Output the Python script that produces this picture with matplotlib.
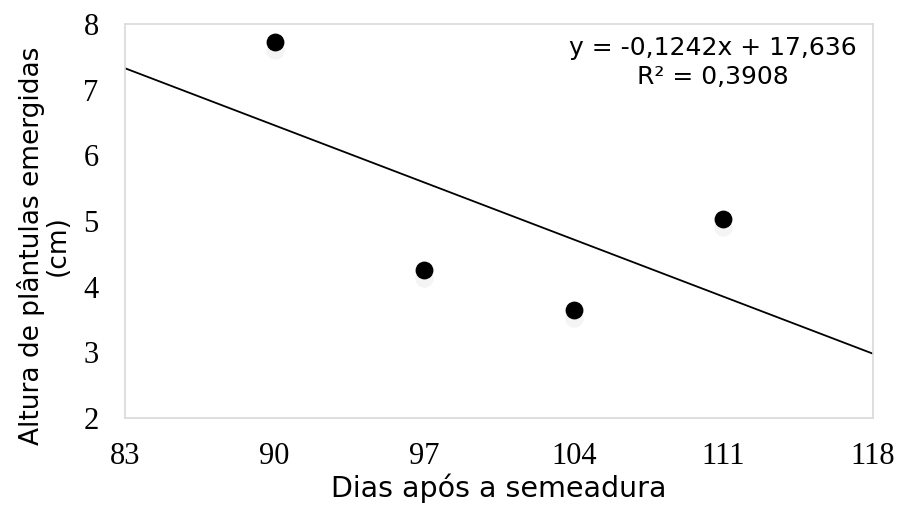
import numpy as np
import matplotlib.pyplot as plt

# data
dias = [90, 97, 104, 111]
altura = [7.72, 4.25, 3.65, 5.03]
slope, intercept = -0.1242, 17.636
r2 = 0.3908
xticks = [83, 90, 97, 104, 111, 118]
yticks = [2, 3, 4, 5, 6, 7, 8]

fig = plt.figure(figsize=(9, 5.13), dpi=100)
ax = fig.add_axes([0.139, 0.185, 0.831, 0.768])

# trendline over the full x range
xs = np.array([xticks[0], xticks[-1]])
ax.plot(xs, slope*xs + intercept, color='black', lw=1.3, zorder=2)

# faint shadow under markers, then the markers
ax.scatter(dias, [v - 0.12 for v in altura], s=150, color='#f4f4f4', zorder=2)
ax.scatter(dias, altura, s=140, color='black', zorder=3)

ax.set_xlim(xticks[0], xticks[-1])
ax.set_ylim(yticks[0], yticks[-1])
ax.set_xticks(xticks)
ax.set_yticks(yticks)
ax.tick_params(length=0, labelsize=22)
ax.tick_params(axis='x', pad=17)
ax.tick_params(axis='y', pad=19)
for lab in ax.get_xticklabels() + ax.get_yticklabels():
	lab.set_family('Liberation Serif')
for sp in ax.spines.values():
	sp.set_color('#d9d9d9')
	sp.set_linewidth(1.2)

ax.set_xlabel('Dias após a semeadura', fontsize=20.5, family='DejaVu Sans', labelpad=2)
ax.set_ylabel('Altura de plântulas emergidas\n(cm)', fontsize=19, family='DejaVu Sans',
	linespacing=1.0)
ax.yaxis.set_label_coords(-0.073, 0.437)

eq = f'y = {slope:.4f}x + {intercept:.3f}'.replace('.', ',')
r2txt = f'R² = {r2:.4f}'.replace('.', ',')
ax.text(0.786, 0.97, eq + '\n' + r2txt, transform=ax.transAxes, ha='center', va='top',
	fontsize=18, family='DejaVu Sans', linespacing=1.25)

plt.savefig('out.png', dpi=100)
